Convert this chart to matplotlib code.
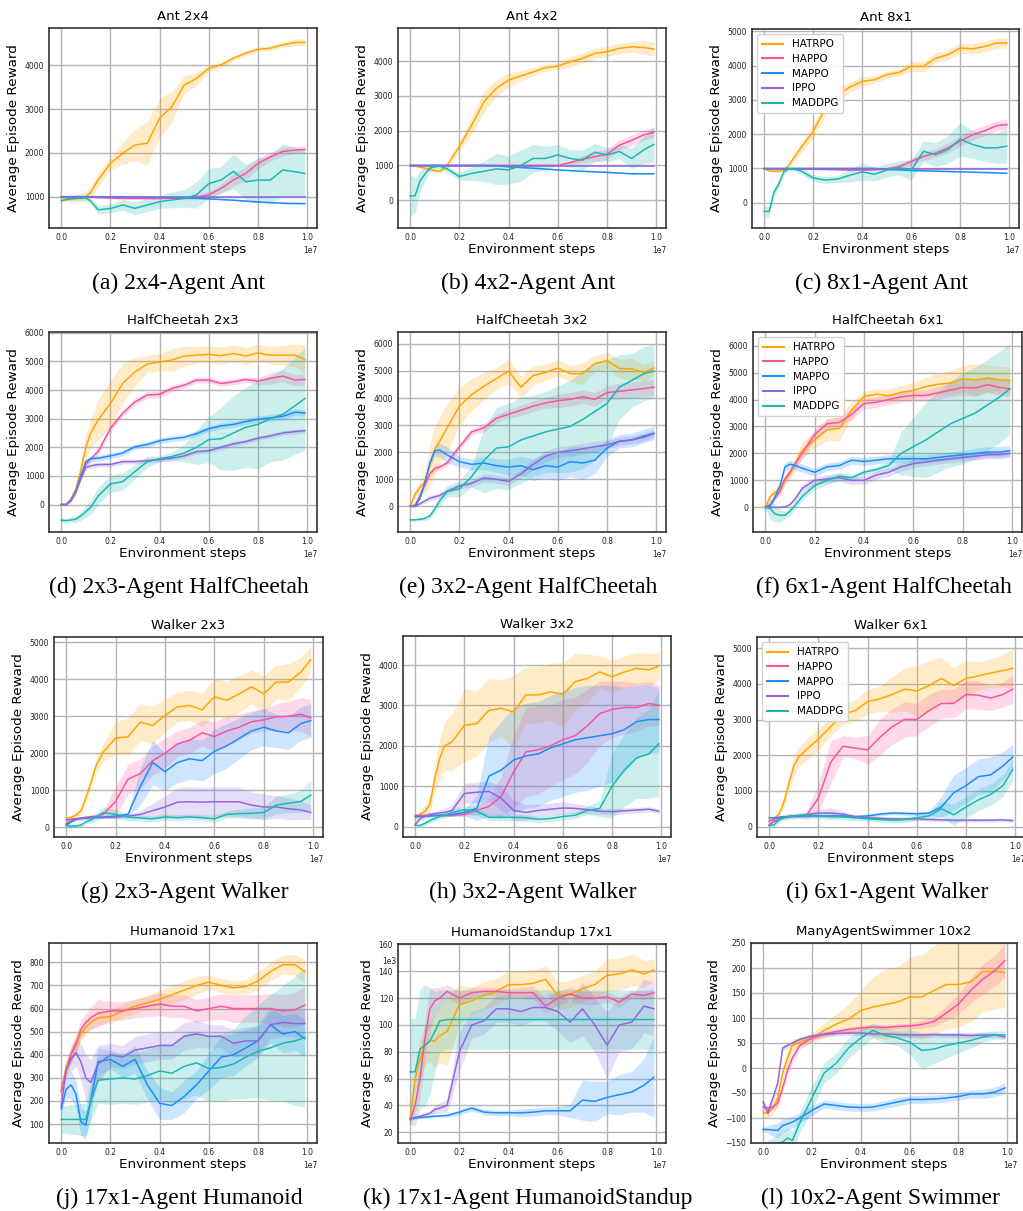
import numpy as np
import matplotlib
matplotlib.use("Agg")
import matplotlib.pyplot as plt

# ---------------- data ----------------
# environment steps (units of 1e7)
STEPS = [0, 0.02, 0.04, 0.06, 0.08, 0.10, 0.12, 0.15, 0.20, 0.25, 0.30, 0.35, 0.40,
         0.45, 0.50, 0.55, 0.60, 0.65, 0.70, 0.75, 0.80, 0.85, 0.90, 0.95, 0.99]

ALGOS = ["HATRPO", "HAPPO", "MAPPO", "IPPO", "MADDPG"]
COLORS = ["#FFA500", "#F7559F", "#1E8CFF", "#9068DC", "#1BB8B2"]

# ---- (a) Ant 2x4
ant24_hatrpo = [980, 960, 950, 960, 980, 1000, 1100, 1380, 1760, 1990, 2180, 2220, 2790, 3055, 3550, 3700, 3930, 4010, 4160, 4275, 4365, 4390, 4465, 4520, 4520]
ant24_hatrpo_sd = [50, 60, 70, 80, 100, 120, 150, 150, 150, 250, 350, 500, 450, 350, 200, 150, 80, 60, 50, 50, 50, 50, 60, 80, 80]
ant24_happo = [1000, 1000, 1000, 1000, 1000, 1000, 990, 980, 970, 960, 960, 960, 960, 965, 970, 990, 1040, 1190, 1380, 1530, 1760, 1910, 2030, 2065, 2080]
ant24_happo_sd = [20, 20, 20, 20, 20, 20, 20, 20, 20, 20, 20, 20, 20, 20, 40, 60, 80, 100, 150, 150, 120, 100, 100, 80, 80]
ant24_mappo = [1000, 1000, 1000, 1000, 1000, 1000, 1000, 1000, 1000, 1000, 995, 990, 985, 980, 975, 965, 950, 935, 920, 900, 880, 865, 850, 845, 840]
ant24_mappo_sd = [15] * 25
ant24_ippo = [990] * 25
ant24_ippo_sd = [10] * 25
ant24_maddpg = [910, 930, 950, 960, 965, 970, 900, 700, 730, 810, 735, 810, 885, 925, 960, 1040, 1300, 1380, 1580, 1340, 1380, 1380, 1610, 1570, 1530]
ant24_maddpg_sd = [30, 30, 40, 40, 50, 50, 60, 100, 100, 120, 150, 150, 150, 180, 200, 300, 350, 300, 400, 400, 500, 550, 600, 550, 550]

# ---- (b) Ant 4x2
ant42_hatrpo = [1000, 980, 950, 920, 880, 850, 830, 1000, 1540, 2160, 2830, 3215, 3455, 3570, 3690, 3810, 3855, 3980, 4075, 4220, 4270, 4365, 4410, 4390, 4345]
ant42_hatrpo_sd = [30, 30, 40, 50, 50, 50, 50, 80, 150, 250, 300, 250, 200, 150, 120, 100, 100, 150, 150, 150, 150, 150, 150, 200, 200]
ant42_happo = [1000] * 17 + [1080, 1180, 1250, 1320, 1580, 1720, 1880, 1950]
ant42_happo_sd = [20] * 16 + [40, 60, 100, 150, 150, 150, 150, 150, 150]
ant42_mappo = [1000] * 11 + [990, 960, 940, 920, 895, 870, 850, 830, 815, 800, 780, 760, 760, 760]
ant42_mappo_sd = [15] * 25
ant42_ippo = [985] * 25
ant42_ippo_sd = [10] * 25
ant42_maddpg = [120, 130, 550, 750, 920, 960, 980, 900, 680, 770, 830, 900, 870, 1000, 1200, 1200, 1300, 1200, 1150, 1380, 1300, 1400, 1200, 1450, 1600]
ant42_maddpg_sd = [600, 500, 300, 200, 100, 80, 60, 100, 100, 200, 300, 450, 400, 450, 400, 350, 300, 250, 300, 250, 200, 200, 300, 400, 500]

# ---- (c) Ant 8x1
ant81_hatrpo = [1000, 930, 920, 920, 950, 1080, 1300, 1600, 2080, 2760, 3150, 3375, 3540, 3590, 3735, 3800, 3980, 3980, 4220, 4320, 4515, 4490, 4560, 4660, 4660]
ant81_hatrpo_sd = [40, 40, 40, 50, 50, 60, 80, 150, 200, 200, 200, 150, 150, 100, 100, 100, 150, 150, 150, 150, 150, 150, 150, 150, 150]
ant81_happo = [990] * 8 + [980, 970, 960, 950, 950, 960, 990, 1050, 1200, 1350, 1450, 1600, 1800, 1980, 2100, 2250, 2280]
ant81_happo_sd = [20] * 14 + [50, 80, 100, 120, 120, 150, 150, 150, 150, 150, 150]
ant81_mappo = [1000] * 14 + [970, 960, 940, 930, 920, 910, 900, 890, 880, 870, 860]
ant81_mappo_sd = [15] * 25
ant81_ippo = [990] * 25
ant81_ippo_sd = [10] * 25
ant81_maddpg = [-250, -260, 300, 550, 900, 980, 980, 930, 720, 660, 690, 800, 900, 830, 950, 1020, 950, 1500, 1400, 1550, 1850, 1700, 1600, 1600, 1650]
ant81_maddpg_sd = [200, 150, 150, 100, 80, 50, 50, 100, 100, 100, 100, 200, 250, 200, 200, 200, 300, 300, 350, 400, 500, 400, 400, 450, 500]

# ---- (d) HalfCheetah 2x3
hc23_hatrpo = [0, 0, 200, 550, 1200, 2000, 2500, 2950, 3530, 4230, 4640, 4910, 4980, 5050, 5190, 5220, 5245, 5200, 5280, 5190, 5300, 5220, 5220, 5220, 5070]
hc23_hatrpo_sd = [20, 30, 80, 150, 300, 400, 500, 700, 800, 700, 500, 300, 300, 400, 350, 300, 300, 300, 300, 300, 300, 300, 350, 400, 500]
hc23_happo = [0, 0, 150, 450, 1000, 1400, 1600, 1850, 2660, 3190, 3590, 3830, 3850, 4060, 4170, 4350, 4350, 4230, 4290, 4370, 4310, 4410, 4490, 4350, 4370]
hc23_happo_sd = [20, 20, 50, 80, 100, 100, 100, 120, 120, 120, 120, 120, 120, 120, 100, 100, 100, 100, 100, 100, 120, 200, 200, 200, 200]
hc23_mappo = [0, 0, 150, 500, 1000, 1500, 1600, 1620, 1700, 1800, 2020, 2100, 2230, 2300, 2350, 2480, 2650, 2750, 2800, 2900, 2980, 3030, 3080, 3230, 3200]
hc23_mappo_sd = [20, 20, 50, 80, 100, 100, 100, 100, 100, 100, 100, 100, 100, 100, 100, 100, 100, 100, 100, 100, 120, 120, 120, 120, 120]
hc23_ippo = [0, 0, 150, 450, 900, 1300, 1350, 1400, 1400, 1500, 1500, 1530, 1570, 1620, 1700, 1850, 1880, 2000, 2120, 2200, 2320, 2400, 2500, 2550, 2580]
hc23_ippo_sd = [20, 20, 50] + [80] * 22
hc23_maddpg = [-550, -560, -540, -510, -400, -250, -100, 300, 720, 800, 1150, 1500, 1600, 1680, 1800, 2000, 2270, 2300, 2500, 2700, 2800, 3000, 3150, 3450, 3700]
hc23_maddpg_sd = [80, 80, 100, 120, 150, 200, 250, 300, 300, 300, 250, 200, 100, 150, 300, 600, 800, 1100, 1300, 1400, 1550, 1500, 1600, 1700, 1800]

# ---- (e) HalfCheetah 3x2
hc32_hatrpo = [0, 450, 700, 900, 1500, 2100, 2400, 2900, 3700, 4130, 4435, 4720, 4990, 4400, 4830, 4950, 5110, 4900, 4900, 5270, 5385, 5090, 5075, 4950, 5110]
hc32_hatrpo_sd = [50, 150, 250, 400, 800, 900, 900, 900, 700, 600, 500, 400, 450, 400, 350, 300, 300, 300, 400, 300, 300, 350, 400, 300, 300]
hc32_happo = [0, 50, 400, 800, 1200, 1400, 1450, 1600, 2200, 2750, 2900, 3250, 3400, 3550, 3700, 3820, 3900, 3950, 4050, 3950, 4200, 4250, 4300, 4350, 4400]
hc32_happo_sd = [20, 50, 100, 100, 100, 100, 100, 120, 120, 120, 150, 150, 150, 200, 200, 200, 250, 250, 250, 250, 250, 300, 300, 300, 300]
hc32_mappo = [0, 0, 300, 900, 1600, 2050, 2080, 1900, 1650, 1550, 1600, 1500, 1450, 1500, 1350, 1500, 1450, 1650, 1600, 1700, 2150, 2400, 2450, 2600, 2700]
hc32_mappo_sd = [20, 20, 50, 100, 200, 200, 250, 300, 200, 200, 250, 250, 300, 350, 400, 450, 500, 550, 600, 500, 300, 250, 250, 250, 250]
hc32_ippo = [0, 0, 100, 200, 300, 350, 400, 550, 750, 850, 1050, 1000, 920, 1200, 1550, 1850, 2000, 2050, 2120, 2200, 2270, 2400, 2450, 2550, 2680]
hc32_ippo_sd = [20, 20, 50, 80, 100, 100, 100, 120, 120, 120, 150, 150, 150, 150, 200, 200, 200, 200, 200, 200, 150, 150, 150, 150, 150]
hc32_maddpg = [-500, -500, -480, -450, -350, -100, 200, 550, 650, 1100, 1700, 2150, 2200, 2450, 2600, 2750, 2850, 2950, 3200, 3500, 3800, 4400, 4650, 4900, 5000]
hc32_maddpg_sd = [50, 50, 60, 80, 100, 150, 180, 200, 300, 400, 1200, 1500, 1600, 1600, 1500, 1500, 1600, 1700, 1800, 1800, 1600, 1200, 1000, 1000, 1000]

# ---- (f) HalfCheetah 6x1
hc61_hatrpo = [0, 400, 550, 700, 1000, 1250, 1600, 2120, 2500, 2870, 2930, 3610, 4110, 4200, 4140, 4270, 4340, 4480, 4570, 4610, 4770, 4730, 4795, 4730, 4710]
hc61_hatrpo_sd = [50, 150, 200, 200, 200, 200, 250, 300, 300, 400, 450, 300, 200, 200, 250, 250, 300, 350, 400, 450, 500, 600, 500, 500, 500]
hc61_happo = [0, 100, 350, 600, 1050, 1300, 1600, 2000, 2700, 3100, 3150, 3450, 3850, 3900, 4000, 4100, 4150, 4150, 4250, 4350, 4450, 4430, 4550, 4450, 4400]
hc61_happo_sd = [30, 50, 100, 100, 150, 150, 150] + [200] * 11 + [250, 250, 300, 300, 300, 300, 300]
hc61_mappo = [0, 50, 400, 800, 1500, 1600, 1550, 1450, 1300, 1500, 1550, 1750, 1700, 1750, 1800, 1800, 1800, 1800, 1850, 1900, 1950, 2000, 2050, 2050, 2100]
hc61_mappo_sd = [20, 50, 100] + [150] * 18 + [200, 200, 200, 200]
hc61_ippo = [0, 0, 0, 0, 10, 100, 300, 700, 1000, 1050, 1100, 1000, 1000, 1200, 1300, 1500, 1620, 1680, 1750, 1800, 1850, 1900, 1950, 1950, 2000]
hc61_ippo_sd = [20, 20, 20, 20, 20, 50, 100] + [150] * 18
hc61_maddpg = [0, -50, -250, -300, -300, -150, 50, 400, 800, 1000, 1150, 1100, 1300, 1400, 1550, 2000, 2250, 2500, 2800, 3100, 3300, 3500, 3800, 4100, 4400]
hc61_maddpg_sd = [50, 400, 300, 250, 150, 150, 150, 150, 150, 150, 150, 100, 100, 100, 150, 800, 1100, 1400, 1500, 1600, 1700, 1700, 1700, 1700, 1700]

# ---- (g) Walker 2x3
w23_hatrpo = [250, 270, 330, 450, 800, 1200, 1650, 2030, 2410, 2440, 2840, 2750, 3020, 3250, 3290, 3170, 3520, 3430, 3600, 3790, 3600, 3920, 3920, 4190, 4520]
w23_hatrpo_sd = [50, 60, 80, 100, 100, 150, 200, 250, 450, 500, 500, 500, 450, 400, 400, 450, 500, 500, 500, 450, 500, 450, 500, 400, 350]
w23_happo = [100, 200, 230, 250, 270, 290, 300, 350, 700, 1300, 1450, 1800, 2000, 2250, 2350, 2550, 2450, 2600, 2700, 2850, 2900, 2980, 3000, 3050, 2950]
w23_happo_sd = [50, 50, 50, 50, 50, 50, 50, 100, 400, 400, 400, 400, 400, 350, 350, 350, 400, 400, 350, 300, 300, 350, 400, 450, 500]
w23_mappo = [70, 150, 220, 250, 260, 270, 275, 280, 300, 350, 1100, 1750, 1500, 1750, 1850, 1800, 2050, 2200, 2400, 2600, 2700, 2600, 2550, 2800, 2880]
w23_mappo_sd = [30, 40, 40, 40, 40, 40, 40, 40, 50, 50, 500, 600, 500, 550, 550, 550, 600, 600, 550, 500, 500, 450, 450, 450, 450]
w23_ippo = [200, 220, 230, 240, 250, 260, 265, 270, 280, 300, 350, 450, 550, 680, 690, 680, 690, 690, 690, 600, 550, 550, 500, 470, 400]
w23_ippo_sd = [30, 30, 30, 30, 30, 30, 30, 30, 30, 50, 100, 200, 300, 400, 400, 400, 400, 400, 400, 350, 350, 300, 300, 250, 200]
w23_maddpg = [50, 30, 40, 60, 150, 200, 280, 400, 350, 280, 250, 230, 280, 260, 280, 260, 230, 350, 370, 380, 400, 600, 650, 700, 870]
w23_maddpg_sd = [50, 50, 50, 50, 60, 80, 100, 150, 120, 100, 80, 80, 80, 80, 80, 80, 100, 100, 120, 150, 150, 250, 250, 300, 400]

# ---- (h) Walker 3x2
w32_hatrpo = [200, 300, 380, 550, 1200, 1700, 2000, 2100, 2510, 2550, 2880, 2930, 2840, 3260, 3260, 3340, 3270, 3590, 3670, 3830, 3710, 3830, 3920, 3880, 3975]
w32_hatrpo_sd = [50, 100, 150, 200, 350, 500, 600, 700, 900, 800, 800, 700, 900, 700, 700, 700, 800, 700, 600, 400, 400, 400, 400, 400, 350]
w32_happo = [280, 280, 280, 280, 280, 280, 280, 280, 300, 400, 500, 750, 1350, 1850, 1900, 2000, 2150, 2250, 2500, 2800, 2900, 2950, 2950, 3050, 3000]
w32_happo_sd = [20, 20, 20, 20, 20, 20, 20, 30, 50, 100, 200, 500, 900, 1100, 1100, 1000, 1000, 950, 900, 800, 700, 650, 600, 550, 500]
w32_mappo = [250, 250, 255, 260, 270, 280, 290, 300, 350, 450, 1250, 1400, 1650, 1750, 1800, 1950, 2050, 2150, 2200, 2250, 2300, 2400, 2600, 2650, 2650]
w32_mappo_sd = [20, 20, 20, 30, 30, 30, 40, 50, 80, 300, 1000, 1200, 1300, 1300, 1300, 1300, 1300, 1300, 1300, 1250, 1200, 1050, 900, 850, 800]
w32_ippo = [50, 200, 250, 300, 320, 340, 350, 400, 820, 850, 870, 700, 400, 350, 400, 430, 460, 450, 420, 380, 370, 390, 410, 430, 380]
w32_ippo_sd = [30, 50, 60, 60, 60, 80, 100, 150, 250, 250, 250, 300, 250, 200, 150, 150, 150, 120, 100, 80, 80, 70, 70, 60, 60]
w32_maddpg = [30, 30, 80, 150, 200, 250, 280, 350, 420, 380, 230, 230, 230, 220, 180, 200, 250, 280, 400, 450, 1000, 1400, 1700, 1800, 2050]
w32_maddpg_sd = [20, 30, 50, 60, 60, 60, 70, 80, 100, 100, 80, 80, 80, 80, 80, 80, 80, 80, 100, 200, 800, 900, 1000, 1100, 1300]

# ---- (i) Walker 6x1
w61_hatrpo = [180, 230, 350, 700, 1200, 1700, 1950, 2150, 2450, 2800, 3150, 3250, 3500, 3580, 3700, 3850, 3800, 3950, 4150, 3950, 4150, 4220, 4300, 4370, 4430]
w61_hatrpo_sd = [30, 50, 80, 150, 200, 250, 280, 300, 300, 250, 300, 300, 350, 350, 500, 600, 700, 700, 600, 500, 500, 400, 400, 450, 550]
w61_happo = [150, 200, 260, 280, 290, 300, 300, 300, 800, 1800, 2250, 2200, 2150, 2500, 2800, 3000, 3000, 3250, 3450, 3450, 3700, 3680, 3600, 3700, 3850]
w61_happo_sd = [30, 30, 30, 30, 30, 30, 50, 100, 400, 600, 300, 300, 400, 500, 500, 500, 450, 450, 400, 400, 400, 400, 350, 350, 400]
w61_mappo = [250, 250, 260, 270, 280, 290, 295, 300, 300, 300, 300, 280, 300, 350, 380, 370, 360, 380, 550, 950, 1150, 1400, 1450, 1700, 1950]
w61_mappo_sd = [30] * 8 + [40, 40, 40, 40, 50, 50, 50, 50, 50, 60, 300, 500, 500, 500, 500, 400, 350]
w61_ippo = [50, 150, 200, 250, 280, 300, 310, 330, 380, 380, 350, 280, 250, 230, 220, 210, 220, 200, 190, 180, 180, 180, 180, 190, 170]
w61_ippo_sd = [30, 40, 50, 50, 50, 50, 50, 60, 100, 150, 80] + [50] * 14
w61_maddpg = [30, 50, 200, 270, 280, 300, 310, 320, 300, 290, 270, 250, 220, 200, 180, 200, 250, 300, 500, 330, 550, 750, 900, 1150, 1600]
w61_maddpg_sd = [30, 50] + [80] * 15 + [100, 200, 300, 300, 300, 300, 300, 300]

# ---- (j) Humanoid 17x1
hum_hatrpo = [240, 350, 400, 440, 490, 520, 540, 560, 565, 590, 610, 625, 640, 660, 680, 700, 715, 700, 690, 695, 720, 760, 790, 790, 760]
hum_hatrpo_sd = [20, 25, 30, 30, 30, 30, 30, 30, 30, 30, 30, 30, 40, 40, 40, 40, 30, 30, 30, 30, 40, 40, 40, 45, 50]
hum_happo = [240, 330, 400, 450, 510, 540, 560, 580, 590, 590, 600, 610, 620, 610, 610, 590, 600, 610, 600, 600, 600, 600, 590, 595, 615]
hum_happo_sd = [20, 30, 40, 40, 40, 40, 50, 60, 40, 40, 40, 45, 50, 50, 50, 50, 50, 55, 60, 60, 60, 65, 70, 75, 80]
hum_mappo = [165, 250, 270, 230, 110, 95, 200, 370, 380, 350, 380, 270, 190, 180, 220, 270, 330, 390, 400, 430, 460, 530, 490, 500, 470]
hum_mappo_sd = [10, 40, 60, 60, 60, 60, 60, 60, 40, 50, 60, 60, 70, 60, 70, 60, 80, 90, 90, 80, 70, 80, 80, 80, 80]
hum_ippo = [175, 330, 380, 410, 370, 300, 280, 360, 400, 390, 420, 430, 440, 440, 480, 490, 480, 480, 450, 460, 460, 530, 540, 535, 535]
hum_ippo_sd = [10, 40, 50, 60, 80, 100, 100, 80, 50, 50, 60, 60, 60, 60, 60, 60, 50, 50, 60, 60, 60, 60, 60, 60, 60]
hum_maddpg = [120, 120, 120, 120, 120, 120, 200, 290, 295, 300, 295, 310, 330, 320, 350, 365, 340, 345, 360, 390, 415, 430, 450, 460, 475]
hum_maddpg_sd = [60, 60, 65, 65, 70, 70, 90, 100, 110, 110, 110, 115, 120, 130, 140, 140, 140, 145, 150, 180, 200, 230, 250, 280, 300]

# ---- (k) HumanoidStandup 17x1 (reward in units of 1e3)
hs_hatrpo = [30, 60, 75, 85, 88, 88, 92, 95, 115, 118, 122, 125, 130, 130, 131, 134, 122, 123, 127, 130, 137, 138, 141, 138, 141]
hs_hatrpo_sd = [5, 10, 15, 15, 15, 20, 20, 25, 15, 10, 10, 10, 10, 10, 10, 10, 10, 10, 10, 10, 12, 12, 12, 10, 8]
hs_happo = [29, 40, 60, 90, 112, 118, 120, 125, 120, 124, 125, 125, 124, 124, 124, 114, 120, 123, 120, 120, 121, 117, 123, 122, 124]
hs_happo_sd = [3, 8, 15, 15, 15, 10, 8, 5, 5, 4, 3, 3, 3, 4, 5, 5, 5, 5, 5, 5, 4, 4, 3, 3, 3]
hs_mappo = [30.5, 30.7, 31, 31.3, 31.6, 32, 32.2, 32.5, 35, 38, 35, 34.5, 34.5, 34.5, 35, 36, 36, 36, 44, 43, 46, 48, 50, 55, 61]
hs_mappo_sd = [1, 1, 1, 1, 1, 1, 1, 1, 2, 2, 2, 2, 2, 3, 3, 3, 3, 5, 15, 15, 12, 15, 15, 20, 30]
hs_ippo = [30, 31, 32, 33, 34, 37, 38, 40, 80, 100, 103, 112, 112, 110, 113, 113, 110, 102, 112, 100, 85, 100, 102, 114, 112]
hs_ippo_sd = [1, 1, 1, 2, 2, 3, 4, 5, 15, 10, 10, 10, 10, 10, 10, 10, 15, 15, 20, 20, 25, 20, 20, 20, 20]
hs_maddpg = [65, 65, 82, 85, 88, 95, 103] + [104] * 18
hs_maddpg_sd = [40, 40, 45, 45, 40, 30, 23] + [22] * 18

# ---- (l) ManyAgentSwimmer 10x2
sw_hatrpo = [-90, -90, -80, -60, -10, 20, 45, 52, 60, 75, 88, 98, 115, 122, 127, 132, 142, 142, 155, 167, 167, 172, 193, 193, 191]
sw_hatrpo_sd = [10, 10, 12, 15, 15, 15, 12, 10, 10, 15, 20, 30, 40, 60, 70, 70, 80, 85, 90, 90, 85, 80, 80, 75, 70]
sw_happo = [-78, -80, -78, -70, -40, -5, 20, 45, 60, 68, 73, 77, 80, 82, 81, 83, 84, 87, 93, 110, 128, 155, 178, 195, 215]
sw_happo_sd = [5, 5, 6, 8, 10, 10, 10, 8, 6, 5, 5, 5, 5, 5, 5, 5, 6, 8, 10, 15, 20, 25, 30, 30, 35]
sw_mappo = [-123, -123, -124, -125, -115, -112, -108, -100, -85, -72, -75, -78, -79, -78, -73, -68, -63, -63, -62, -60, -57, -52, -52, -48, -40]
sw_mappo_sd = [5, 8, 12, 15, 14, 12, 12, 10, 10, 8, 8, 8, 8, 8, 8, 8, 8, 8, 8, 8, 8, 8, 9, 10, 10]
sw_ippo = [-68, -90, -60, -30, 40, 45, 50, 57, 64, 67, 69, 70, 70, 68, 68, 67, 66, 66, 67, 66, 66, 65, 66, 66, 62]
sw_ippo_sd = [8, 8, 8, 8, 6] + [5] * 20
sw_maddpg = [-170, -165, -160, -150, -148, -140, -145, -110, -60, -10, 10, 40, 60, 75, 65, 60, 52, 35, 38, 45, 50, 55, 62, 66, 66]
sw_maddpg_sd = [20, 20, 20, 20, 20, 20, 20, 20, 25, 20, 20, 20, 20, 15, 15, 15, 25, 35, 30, 25, 20, 15, 10, 8, 8]

TITLES = ["Ant 2x4", "Ant 4x2", "Ant 8x1",
          "HalfCheetah 2x3", "HalfCheetah 3x2", "HalfCheetah 6x1",
          "Walker 2x3", "Walker 3x2", "Walker 6x1",
          "Humanoid 17x1", "HumanoidStandup 17x1", "ManyAgentSwimmer 10x2"]
CAPTIONS = ["(a) 2x4-Agent Ant", "(b) 4x2-Agent Ant", "(c) 8x1-Agent Ant",
            "(d) 2x3-Agent HalfCheetah", "(e) 3x2-Agent HalfCheetah", "(f) 6x1-Agent HalfCheetah",
            "(g) 2x3-Agent Walker", "(h) 3x2-Agent Walker", "(i) 6x1-Agent Walker",
            "(j) 17x1-Agent Humanoid", "(k) 17x1-Agent HumanoidStandup", "(l) 10x2-Agent Swimmer"]

MEANS = [
    [ant24_hatrpo, ant24_happo, ant24_mappo, ant24_ippo, ant24_maddpg],
    [ant42_hatrpo, ant42_happo, ant42_mappo, ant42_ippo, ant42_maddpg],
    [ant81_hatrpo, ant81_happo, ant81_mappo, ant81_ippo, ant81_maddpg],
    [hc23_hatrpo, hc23_happo, hc23_mappo, hc23_ippo, hc23_maddpg],
    [hc32_hatrpo, hc32_happo, hc32_mappo, hc32_ippo, hc32_maddpg],
    [hc61_hatrpo, hc61_happo, hc61_mappo, hc61_ippo, hc61_maddpg],
    [w23_hatrpo, w23_happo, w23_mappo, w23_ippo, w23_maddpg],
    [w32_hatrpo, w32_happo, w32_mappo, w32_ippo, w32_maddpg],
    [w61_hatrpo, w61_happo, w61_mappo, w61_ippo, w61_maddpg],
    [hum_hatrpo, hum_happo, hum_mappo, hum_ippo, hum_maddpg],
    [hs_hatrpo, hs_happo, hs_mappo, hs_ippo, hs_maddpg],
    [sw_hatrpo, sw_happo, sw_mappo, sw_ippo, sw_maddpg],
]
SDS = [
    [ant24_hatrpo_sd, ant24_happo_sd, ant24_mappo_sd, ant24_ippo_sd, ant24_maddpg_sd],
    [ant42_hatrpo_sd, ant42_happo_sd, ant42_mappo_sd, ant42_ippo_sd, ant42_maddpg_sd],
    [ant81_hatrpo_sd, ant81_happo_sd, ant81_mappo_sd, ant81_ippo_sd, ant81_maddpg_sd],
    [hc23_hatrpo_sd, hc23_happo_sd, hc23_mappo_sd, hc23_ippo_sd, hc23_maddpg_sd],
    [hc32_hatrpo_sd, hc32_happo_sd, hc32_mappo_sd, hc32_ippo_sd, hc32_maddpg_sd],
    [hc61_hatrpo_sd, hc61_happo_sd, hc61_mappo_sd, hc61_ippo_sd, hc61_maddpg_sd],
    [w23_hatrpo_sd, w23_happo_sd, w23_mappo_sd, w23_ippo_sd, w23_maddpg_sd],
    [w32_hatrpo_sd, w32_happo_sd, w32_mappo_sd, w32_ippo_sd, w32_maddpg_sd],
    [w61_hatrpo_sd, w61_happo_sd, w61_mappo_sd, w61_ippo_sd, w61_maddpg_sd],
    [hum_hatrpo_sd, hum_happo_sd, hum_mappo_sd, hum_ippo_sd, hum_maddpg_sd],
    [hs_hatrpo_sd, hs_happo_sd, hs_mappo_sd, hs_ippo_sd, hs_maddpg_sd],
    [sw_hatrpo_sd, sw_happo_sd, sw_mappo_sd, sw_ippo_sd, sw_maddpg_sd],
]

# ---------------- layout ----------------
W, H = 1023, 1211
# axes boxes in pixels: left, top, right, bottom
BOXES = [(49, 28, 317, 228), (398, 28, 666, 228), (752, 29, 1019, 228),
         (49, 332, 317, 532), (398, 332, 666, 532), (753, 332, 1022, 532),
         (54, 637, 323, 837), (403, 636, 671, 837), (757, 637, 1025, 837),
         (49, 943, 317, 1143), (398, 944, 666, 1143), (751, 943, 1017, 1143)]
YLIMS = [(285, 4850), (-800, 4950), (-740, 5070),
         (-960, 6030), (-950, 6440), (-920, 6510),
         (-260, 5135), (-258, 4720), (-290, 5310),
         (18, 884), (12, 160.3), (-150, 250)]
YTICKS = [np.arange(1000, 4001, 1000), np.arange(0, 4001, 1000), np.arange(0, 5001, 1000),
          np.arange(0, 6001, 1000), np.arange(0, 6001, 1000), np.arange(0, 6001, 1000),
          np.arange(0, 5001, 1000), np.arange(0, 4001, 1000), np.arange(0, 5001, 1000),
          np.arange(100, 801, 100), np.arange(20, 161, 20), np.arange(-150, 251, 50)]
CAPTION_Y = [283, 283, 283, 587, 587, 587, 892, 892, 892, 1198, 1198, 1198]
LEGEND_PANELS = {2, 5, 8}

plt.rcParams["font.family"] = ["DejaVu Sans"]
fig = plt.figure(figsize=(W / 100, H / 100), dpi=100)
x = np.array(STEPS) * 1e7

for i in range(12):
    l, t, r, b = BOXES[i]
    ax = fig.add_axes([l / W, 1 - b / H, (r - l) / W, (b - t) / H])
    ax.set_axisbelow(True)
    ax.grid(True, color="#b4b4b4", linewidth=1.0)
    for k in range(5):
        m = np.array(MEANS[i][k], dtype=float)
        s = np.array(SDS[i][k], dtype=float)
        ax.fill_between(x, m - s, m + s, color=COLORS[k], alpha=0.22, linewidth=0)
    for k in range(5):
        ax.plot(x, MEANS[i][k], color=COLORS[k], linewidth=1.1, label=ALGOS[k])
    ax.set_xlim(-0.0495e7, 1.0395e7)
    ax.set_ylim(*YLIMS[i])
    ax.set_xticks(np.arange(0, 1.01e7, 0.2e7))
    ax.set_yticks(YTICKS[i])
    ax.tick_params(length=0, labelsize=5.5, colors="#222222", pad=3.5)
    ax.xaxis.get_offset_text().set_fontsize(5.5)
    for sp in ax.spines.values():
        sp.set_color("#333333")
        sp.set_linewidth(1.2)
    ax.set_title(TITLES[i], fontsize=9.5, pad=6)
    ax.set_xlabel("Environment steps", fontsize=9.7, labelpad=1)
    ax.set_ylabel("Average Episode Reward", fontsize=9.7, labelpad=3)
    if i == 10:
        ax.text(-0.005, 0.91, "1e3", transform=ax.transAxes, ha="right", va="center",
                fontsize=5.5, color="#222222")
    if i in LEGEND_PANELS:
        leg = ax.legend(loc="upper left", fontsize=7.5, framealpha=0.9,
                        borderpad=0.5, labelspacing=0.45, handlelength=2.0)
        for ln in leg.get_lines():
            ln.set_linewidth(1.5)
    cx = (l + r) / 2 - 4
    fig.text(cx / W, 1 - CAPTION_Y[i] / H, CAPTIONS[i], ha="center", va="center",
             fontsize=17, family=["Liberation Serif", "DejaVu Serif"])

fig.savefig("out.png", dpi=100)
